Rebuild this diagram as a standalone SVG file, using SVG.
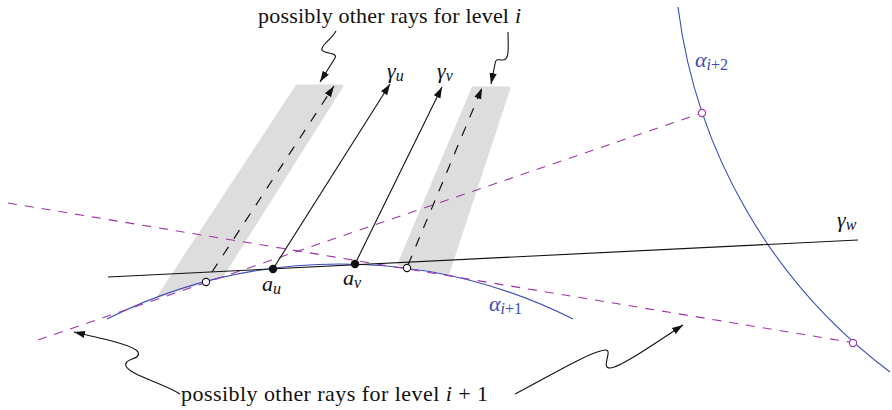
<svg xmlns="http://www.w3.org/2000/svg" width="892" height="410" viewBox="0 0 892 410">
<style>
.lbl{font-family:"Liberation Serif","DejaVu Serif",serif;font-size:22px;fill:#111}
.m{font-family:"Liberation Serif","DejaVu Serif",serif;font-style:italic;fill:#111;font-size:22px}
.s{font-size:16px}
.blue{fill:#3a4bbd}
.band{fill:#dddddd;stroke:#dddddd;stroke-width:3;stroke-linejoin:round}
.ray{fill:none;stroke:#111;stroke-width:1.1}
.dray{fill:none;stroke:#111;stroke-width:1.2;stroke-dasharray:10 10}
.mag{fill:none;stroke:#a033a8;stroke-width:1.1;stroke-dasharray:9 8}
.curve{fill:none;stroke:#3a4bbd;stroke-width:1.1}
.sq{fill:none;stroke:#111;stroke-width:1.1}
</style>
<defs>
<marker id="ah" markerUnits="userSpaceOnUse" markerWidth="12" markerHeight="9" refX="11" refY="4.5" orient="auto">
<path d="M0,0.9 L11,4.5 L0,8.1 Z" fill="#111"/>
</marker>
</defs>
<rect width="892" height="410" fill="#fff"/>
<g id="bands">
<polygon class="band" points="297,86 342,86 222,276 159,296"/>
<polygon class="band" points="473,88 509,88 448,273 399,264"/>
</g>
<g id="curves">
<path id="alpha1" class="curve" d="M107,319 A521,521 0 0 1 573,319"/>
<path id="alpha2" class="curve" d="M678,7 A540,540 0 0 0 890,372"/>
</g>
<g id="connectors">
<line class="mag" x1="38" y1="340" x2="699" y2="114"/>
<line class="mag" x1="8" y1="203" x2="849" y2="342"/>
<line id="gamma_w" class="ray" x1="108" y1="277" x2="858" y2="240"/>
<line id="gamma_u" class="ray" x1="273" y1="269" x2="390" y2="84" marker-end="url(#ah)"/>
<line id="gamma_v" class="ray" x1="355" y1="264" x2="442" y2="87" marker-end="url(#ah)"/>
<line class="dray" x1="212" y1="272" x2="334" y2="86" marker-end="url(#ah)"/>
<line class="dray" x1="408" y1="265" x2="482" y2="88" marker-end="url(#ah)"/>
<path class="sq" d="M336,31 C331,40 320,46 322,50 C324,54 338,52 335,58 L320,82" marker-end="url(#ah)"/>
<path class="sq" d="M508,32 C508,45 510,60 503,60 C497,60 496,58 495,64 L491,84" marker-end="url(#ah)"/>
<path class="sq" d="M180,394 C160,382 130,375 126,366 C123,358 142,360 138,352 C134,345 100,338 74,332" marker-end="url(#ah)"/>
<path class="sq" d="M515,394 C560,370 590,352 605,350 C614,349 600,368 610,368 C620,368 660,340 683,325" marker-end="url(#ah)"/>
</g>
<g id="points">
<circle id="a_u" cx="273" cy="269" r="4.2" fill="#111"/>
<circle id="a_v" cx="355" cy="264" r="4.2" fill="#111"/>
<circle cx="206" cy="282" r="3.6" fill="#fff" stroke="#111" stroke-width="1.1"/>
<circle cx="407" cy="268" r="3.6" fill="#fff" stroke="#111" stroke-width="1.1"/>
<circle cx="702" cy="113" r="3.6" fill="#fff" stroke="#a033a8" stroke-width="1.2"/>
<circle cx="853" cy="343" r="3.6" fill="#fff" stroke="#a033a8" stroke-width="1.2"/>
</g>
<g id="labels">
<text class="lbl" x="258" y="23" textLength="263">possibly other rays for level <tspan font-style="italic">i</tspan></text>
<text class="lbl" x="181" y="401" textLength="307">possibly other rays for level <tspan font-style="italic">i</tspan> + 1</text>
<text class="m" x="387" y="77.6">γ<tspan class="s" dy="3">u</tspan></text>
<text class="m" x="437" y="77.6">γ<tspan class="s" dy="3">v</tspan></text>
<text class="m" x="837" y="226.6">γ<tspan class="s" dy="3">w</tspan></text>
<text class="m" x="262" y="290.5">a<tspan class="s" dy="3">u</tspan></text>
<text class="m" x="343" y="284.5">a<tspan class="s" dy="3">v</tspan></text>
<text class="m blue" x="489" y="310.7">α<tspan class="s" dy="3">i</tspan><tspan class="s" font-style="normal">+1</tspan></text>
<text class="m blue" x="695" y="67">α<tspan class="s" dy="3">i</tspan><tspan class="s" font-style="normal">+2</tspan></text>
</g>
</svg>
